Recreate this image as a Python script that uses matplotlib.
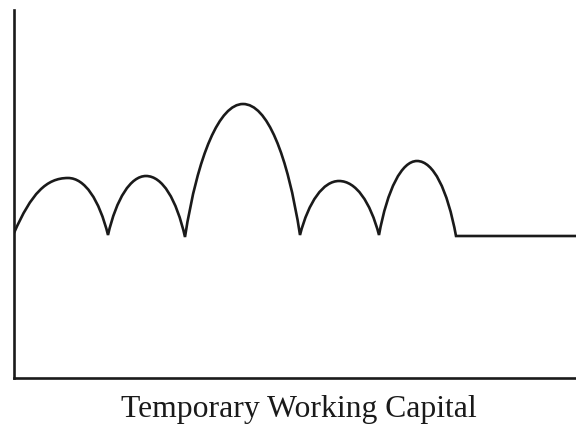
import matplotlib.pyplot as plt
from matplotlib.path import Path
from matplotlib.patches import PathPatch

# key points of the curve (x, height above the x axis)
troughs_x = [14, 108, 185, 300, 379, 456]
troughs_y = [145, 143, 141, 143, 143, 142]
peaks_x = [68, 146, 243, 339, 417]
peaks_y = [200, 202, 274, 197, 217]
flat_end_x = 576
label = "Temporary Working Capital"

fig = plt.figure(figsize=(5.76, 4.24), dpi=100)
ax = fig.add_axes([14 / 576, 46 / 424, 562 / 576, 368 / 424])

# build the arcs as bezier curves through troughs and peaks
verts = [(troughs_x[0], troughs_y[0])]
codes = [Path.MOVETO]
for i in range(len(peaks_x)):
    x0, y0 = troughs_x[i], troughs_y[i]
    xp, yp = peaks_x[i], peaks_y[i]
    x1, y1 = troughs_x[i + 1], troughs_y[i + 1]
    # rise (the first one starts off straighter)
    d = xp - x0
    a, b = (0.32, 0.72) if i == 0 else (0.22, 0.62)
    verts += [(x0 + a * d, y0 + b * (yp - y0)), (xp - 0.4 * d, yp), (xp, yp)]
    codes += [Path.CURVE4] * 3
    # fall
    d = x1 - xp
    verts += [(xp + 0.42 * d, yp), (x1 - 0.22 * d, y1 + 0.62 * (yp - y1)), (x1, y1)]
    codes += [Path.CURVE4] * 3
verts.append((flat_end_x, troughs_y[-1]))
codes.append(Path.LINETO)

ax.add_patch(PathPatch(Path(verts, codes), facecolor='none', edgecolor='#1a1a1a',
                       linewidth=1.9, capstyle='butt', joinstyle='miter'))

ax.set_xlim(14, 576)
ax.set_ylim(0, 368)
for s in ['top', 'right']:
    ax.spines[s].set_visible(False)
for s in ['left', 'bottom']:
    ax.spines[s].set_linewidth(1.9)
    ax.spines[s].set_color('#1a1a1a')
ax.set_xticks([])
ax.set_yticks([])

fig.text(299 / 576, 1 - 417 / 424, label, ha='center', va='baseline',
         fontsize=22.8, family='Liberation Serif', color='#1a1a1a')

plt.savefig('out.png', dpi=100)
